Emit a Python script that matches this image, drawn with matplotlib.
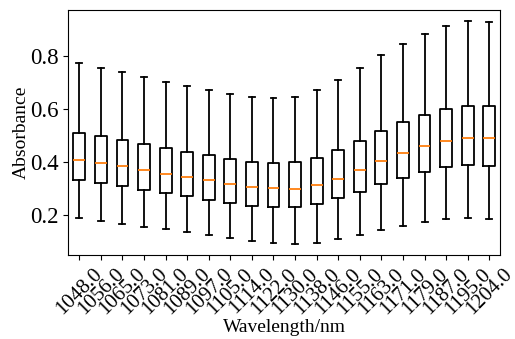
import numpy as np
import matplotlib.pyplot as plt

plt.rcParams['font.family'] = ['Liberation Serif', 'DejaVu Serif']

# wavelengths (nm) and box statistics
wavelengths = ['1048.0', '1056.0', '1065.0', '1073.0', '1081.0', '1089.0', '1097.0',
               '1105.0', '1114.0', '1122.0', '1130.0', '1138.0', '1146.0', '1155.0',
               '1163.0', '1171.0', '1179.0', '1187.0', '1195.0', '1204.0']
whislo = [0.191, 0.180, 0.169, 0.158, 0.148, 0.137, 0.125, 0.115, 0.104, 0.096,
          0.092, 0.097, 0.110, 0.125, 0.145, 0.159, 0.174, 0.185, 0.190, 0.186]
q1 = [0.335, 0.323, 0.309, 0.297, 0.285, 0.272, 0.258, 0.247, 0.237, 0.230,
      0.231, 0.244, 0.264, 0.289, 0.318, 0.342, 0.364, 0.381, 0.391, 0.387]
med = [0.409, 0.396, 0.384, 0.370, 0.356, 0.344, 0.332, 0.320, 0.308, 0.302,
       0.301, 0.314, 0.337, 0.370, 0.404, 0.434, 0.460, 0.481, 0.493, 0.490]
q3 = [0.510, 0.497, 0.482, 0.468, 0.453, 0.440, 0.426, 0.414, 0.402, 0.397,
      0.400, 0.417, 0.446, 0.481, 0.517, 0.550, 0.578, 0.601, 0.613, 0.610]
whishi = [0.773, 0.753, 0.738, 0.721, 0.702, 0.687, 0.672, 0.657, 0.645, 0.640,
          0.646, 0.671, 0.709, 0.755, 0.805, 0.846, 0.883, 0.914, 0.930, 0.927]

stats = []
for i in range(len(wavelengths)):
    stats.append({'label': wavelengths[i], 'whislo': whislo[i], 'q1': q1[i],
                  'med': med[i], 'q3': q3[i], 'whishi': whishi[i], 'fliers': []})

fig = plt.figure(figsize=(5.15, 3.39), dpi=100)
ax = fig.add_axes([0.133, 0.247, 0.838, 0.723])
ax.bxp(stats, showfliers=False, widths=0.55,
       boxprops=dict(color='black', linewidth=1.3),
       whiskerprops=dict(color='black', linewidth=1.3),
       capprops=dict(color='black', linewidth=1.3),
       medianprops=dict(color='#ff7f0e', linewidth=1.3))
ax.set_yticks([0.2, 0.4, 0.6, 0.8])
ax.tick_params(axis='y', labelsize=16.5)
plt.setp(ax.get_xticklabels(), rotation=45, fontsize=15)
ax.set_xlabel('Wavelength/nm', fontsize=14, labelpad=0)
ax.set_ylabel('Absorbance', fontsize=14, labelpad=0)
fig.savefig('out.png', dpi=100)
